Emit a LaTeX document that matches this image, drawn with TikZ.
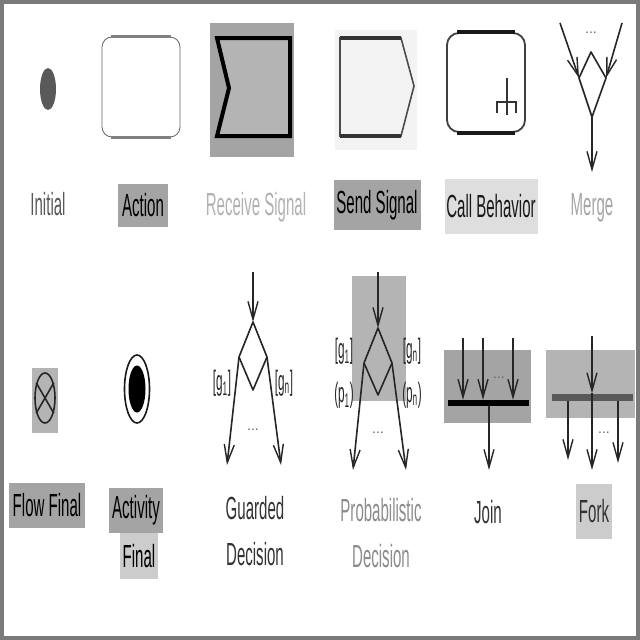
\documentclass[tikz,border=0pt]{standalone}
\usepackage{fontspec}
\setmainfont{Liberation Sans}
\newfontfamily\narrowfont[FakeStretch=0.47]{Liberation Sans}
\newfontfamily\guardfont[FakeStretch=0.42]{Liberation Sans}
\usetikzlibrary{arrows.meta,shapes.geometric}
\definecolor{bgA}{HTML}{A4A4A4}
\definecolor{bgB}{HTML}{B4B4B4}
\definecolor{bgC}{HTML}{CCCCCC}
\definecolor{bgD}{HTML}{DEDEDE}
\definecolor{bgE}{HTML}{F3F3F3}
\definecolor{frame}{HTML}{7A7A7A}
\begin{document}
\begin{tikzpicture}[x=1pt,y=-1pt,
  lbl/.style={font=\narrowfont\fontsize{32}{46}\selectfont, inner sep=0pt, align=center},
  guard/.style={font=\guardfont\fontsize{28}{30}\selectfont, inner sep=0pt, text=black!85},
  dots/.style={font=\fontsize{14}{14}\selectfont, inner sep=0pt, text=black!60},
  edge/.style={draw=black!85, line width=1.6pt, line join=round},
  flow/.style={edge, -{Straight Barb[length=18pt,width=10pt,line width=1.4pt]}},
  bgbox/.style={inner sep=0pt, draw=none}]
\useasboundingbox (0,0) rectangle (640,640);
\fill[white] (0,0) rectangle (640,640);
\draw[frame, line width=4pt] (1.5,2) rectangle (638,637.5);

% ---------- Row 1 ----------
% Initial
\node[ellipse, fill=black!65, minimum width=16, minimum height=42, inner sep=0pt] (init) at (48,89) {};
\node[lbl, text=black!65] (initlbl) at (48,204) {Initial};

% Action
\node[draw=black!60, line width=0.8pt, rounded corners=10pt, minimum width=78, minimum height=100, inner sep=0pt] (action) at (141,87) {};
\draw[black!50, line width=3pt] ([xshift=9pt]action.north west) -- ([xshift=-9pt]action.north east);
\draw[black!50, line width=3pt] ([xshift=9pt]action.south west) -- ([xshift=-9pt]action.south east);
\node[lbl, fill=bgA, minimum width=50, minimum height=43] (actionlbl) at (143,205) {Action};

% Receive signal
\node[bgbox, fill=bgA, minimum width=84, minimum height=134] (recvbg) at (252,90) {};
\coordinate (rs1) at (217,38);
\coordinate (rs2) at (290,38);
\coordinate (rs3) at (290,136);
\coordinate (rs4) at (217,136);
\coordinate (rs5) at (229,88);
\draw[black, line width=4pt, fill=bgB, line join=miter] (rs1) -- (rs2) -- (rs3) -- (rs4) -- (rs5) -- cycle;
\node[lbl, text=black!30] (recvlbl) at (256,207) {Receive Signal};

% Send signal
\node[bgbox, fill=bgE, minimum width=82, minimum height=120] (sendbg) at (376,90) {};
\coordinate (ss1) at (340,38);
\coordinate (ss2) at (401,38);
\coordinate (ss3) at (414,86);
\coordinate (ss4) at (401,136);
\coordinate (ss5) at (340,136);
\draw[black!70, line width=1.6pt, fill=bgE] (ss1) -- (ss2) -- (ss3) -- (ss4) -- (ss5) -- cycle;
\draw[black!80, line width=4pt] (ss1) -- (ss2);
\draw[black!80, line width=4pt] (ss5) -- (ss4);
\node[lbl, fill=bgA, minimum width=87, minimum height=50] (sendlbl) at (377,205) {Send Signal};

% Call behavior
\node[draw=black!75, line width=1.8pt, rounded corners=12pt, minimum width=78, minimum height=99, inner sep=0pt] (call) at (486,82.5) {};
\draw[black!90, line width=4pt] ([xshift=11pt]call.north west) -- ([xshift=-11pt]call.north east);
\draw[black!90, line width=4pt] ([xshift=11pt]call.south west) -- ([xshift=-11pt]call.south east);
\coordinate (rk-top) at (507,78);
\coordinate (rk-bot) at (507,115);
\coordinate (rk-l) at (497,102);
\coordinate (rk-r) at (516,102);
\coordinate (rk-lb) at (497,113);
\coordinate (rk-rb) at (516,113);
\draw[black!80, line width=1.2pt] (rk-top) -- (rk-bot);
\draw[black!80, line width=1.2pt] (rk-lb) -- (rk-l) -- (rk-r) -- (rk-rb);
\node[lbl, fill=bgD, minimum width=93, minimum height=55, text=black!90] (calllbl) at (491,206) {Call Behavior};

% Merge
\coordinate (m-in1) at (560,23);
\coordinate (m-in2) at (622,23);
\coordinate (m-t) at (591,52);
\coordinate (m-l) at (579,78);
\coordinate (m-b) at (592,117);
\coordinate (m-r) at (606,78);
\coordinate (m-out) at (592,172);
\draw[edge] (m-l) -- (m-t) -- (m-r) -- (m-b) -- cycle;
\draw[flow] (m-in1) -- (m-l);
\draw[flow] (m-in2) -- (m-r);
\draw[flow] (m-b) -- (m-out);
\node[dots] (m-dots) at (591,33) {...};
\node[lbl, text=black!35] (mergelbl) at (592,208) {Merge};

% ---------- Row 2 ----------
% Flow final
\node[bgbox, fill=bgB, minimum width=26, minimum height=65] (ffbg) at (45,400) {};
\node[ellipse, draw=black!85, line width=1.6pt, minimum width=20, minimum height=50, inner sep=0pt] (ff) at (45,398) {};
\draw[black!85, line width=1.6pt] (ff.60) -- (ff.240);
\draw[black!85, line width=1.6pt] (ff.120) -- (ff.300);
\node[lbl, fill=bgA, minimum width=76, minimum height=45] (fflbl) at (47,505) {Flow Final};

% Activity final
\node[ellipse, draw=black!90, line width=1.6pt, minimum width=25, minimum height=68, inner sep=0pt] (af) at (137,389) {};
\node[ellipse, fill=black, minimum width=17, minimum height=47, inner sep=0pt] (afin) at (af.center) {};
\node[lbl, fill=bgA, minimum width=54, minimum height=45] (aflbl1) at (136,510) {Activity};
\node[lbl, fill=bgC, minimum width=38, minimum height=46] (aflbl2) at (139,556) {Final};

% Guarded decision
\coordinate (gd-in) at (253,272);
\coordinate (gd-t) at (253,322);
\coordinate (gd-l) at (239,357);
\coordinate (gd-b) at (253,390);
\coordinate (gd-r) at (267,357);
\coordinate (gd-o1) at (227,465);
\coordinate (gd-o2) at (281,465);
\draw[edge] (gd-t) -- (gd-l) -- (gd-b) -- (gd-r) -- cycle;
\draw[flow] (gd-in) -- (gd-t);
\draw[flow] (gd-l) -- (gd-o1);
\draw[flow] (gd-r) -- (gd-o2);
\node[dots] (gd-dots) at (253,430) {...};
\node[guard] (gd-g1) at (222,383) {[g\textsubscript{1}]};
\node[guard] (gd-gn) at (284,383) {[g\textsubscript{n}]};
\node[lbl, text=black!80] (gdlbl) at (255,531) {Guarded\\Decision};

% Probabilistic decision
\node[bgbox, fill=bgB, minimum width=54, minimum height=125] (pdbg) at (379,338) {};
\coordinate (pd-in) at (378,272);
\coordinate (pd-t) at (378,328);
\coordinate (pd-l) at (364,363);
\coordinate (pd-b) at (378,395);
\coordinate (pd-r) at (392,363);
\coordinate (pd-o1) at (353,470);
\coordinate (pd-o2) at (406,470);
\draw[edge] (pd-t) -- (pd-l) -- (pd-b) -- (pd-r) -- cycle;
\draw[flow] (pd-in) -- (pd-t);
\draw[flow] (pd-l) -- (pd-o1);
\draw[flow] (pd-r) -- (pd-o2);
\node[dots] (pd-dots) at (378,433) {...};
\node[guard] (pd-g1) at (344,351) {[g\textsubscript{1}]};
\node[guard] (pd-p1) at (344,395) {(p\textsubscript{1})};
\node[guard] (pd-gn) at (412,351) {[g\textsubscript{n}]};
\node[guard] (pd-pn) at (412,395) {(p\textsubscript{n})};
\node[lbl, text=black!45] (pdlbl) at (381,533) {Probabilistic\\Decision};

% Join
\node[bgbox, fill=bgA, minimum width=87, minimum height=73] (joinbg) at (487.5,386.5) {};
\node[bgbox, fill=black, minimum width=81, minimum height=6] (joinbar) at (488.5,403) {};
\coordinate (j-in1) at (463,338);
\coordinate (j-in2) at (483,338);
\coordinate (j-in3) at (513,338);
\coordinate (j-out) at (489,470);
\draw[flow] (j-in1) -- (j-in1 |- joinbar.north);
\draw[flow] (j-in2) -- (j-in2 |- joinbar.north);
\draw[flow] (j-in3) -- (j-in3 |- joinbar.north);
\draw[flow] (j-out |- joinbar.south) -- (j-out);
\node[dots] (j-dots) at (499,378) {...};
\node[lbl, text=black!80] (joinlbl) at (488,512) {Join};

% Fork
\node[bgbox, fill=bgB, minimum width=89, minimum height=68] (forkbg) at (590.5,384) {};
\node[bgbox, fill=black!65, minimum width=81, minimum height=7] (forkbar) at (592.5,397) {};
\coordinate (f-in) at (592,336);
\coordinate (f-o1) at (568,460);
\coordinate (f-o2) at (592,470);
\coordinate (f-o3) at (618,463);
\draw[flow] (f-in) -- (f-in |- forkbar.north);
\draw[edge] (f-in |- forkbar.north) -- (f-in |- forkbar.south);
\draw[flow] (f-o1 |- forkbar.south) -- (f-o1);
\draw[flow] (f-o2 |- forkbar.south) -- (f-o2);
\draw[flow] (f-o3 |- forkbar.south) -- (f-o3);
\node[dots] (f-dots) at (604,433) {...};
\node[lbl, fill=bgC, minimum width=36, minimum height=55, text=black!80] (forklbl) at (594,511) {Fork};
\end{tikzpicture}
\end{document}
